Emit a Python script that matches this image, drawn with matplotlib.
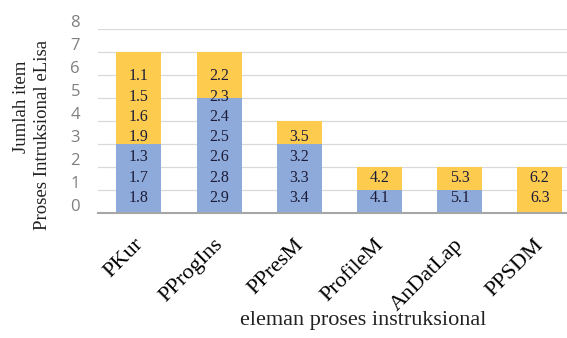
import matplotlib
matplotlib.use("Agg")
import matplotlib.pyplot as plt
import matplotlib.transforms as mtransforms
import numpy as np

categories = ["PKur", "PProgIns", "PPresM", "ProfileM", "AnDatLap", "PPSDM"]
# item labels, listed from bottom to top within each segment
blue_items = [["1.8", "1.7", "1.3"],
              ["2.9", "2.8", "2.6", "2.5", "2.4"],
              ["3.4", "3.3", "3.2"],
              ["4.1"],
              ["5.1"],
              []]
yellow_items = [["1.9", "1.6", "1.5", "1.1"],
                ["2.3", "2.2"],
                ["3.5"],
                ["4.2"],
                ["5.3"],
                ["6.3", "6.2"]]
blue_counts = [len(b) for b in blue_items]
yellow_counts = [len(y) for y in yellow_items]
yticks = list(range(0, 9))

BLUE = "#8eaadb"
YELLOW = "#fdcb4e"
TXT = "#1c1c38"
serif = ["Liberation Serif", "DejaVu Serif"]

fig = plt.figure(figsize=(5.67, 3.38), dpi=100)
ax = fig.add_axes([98/567, 125/338, 1 - 98/567, 184/338])
x = np.arange(len(categories))
w = 0.56
ax.bar(x, blue_counts, width=w, color=BLUE, zorder=2)
ax.bar(x, yellow_counts, width=w, bottom=blue_counts, color=YELLOW, zorder=2)

for i in range(len(categories)):
    items = blue_items[i] + yellow_items[i]
    for k, lab in enumerate(items):
        ax.text(x[i], 0.66 + 0.88 * k, lab, ha="center", va="center",
                fontsize=11.5, color=TXT, family=serif, zorder=3)

ax.set_xlim(-0.51, 5.34)
ax.set_ylim(0, 8)
ax.set_yticks(yticks)
ax.yaxis.grid(True, color="#d9d9d9", linewidth=0.9, zorder=0)
ax.set_axisbelow(True)
for s in ["top", "right", "left"]:
    ax.spines[s].set_visible(False)
ax.spines["bottom"].set_color("#a6a6a6")
ax.spines["bottom"].set_linewidth(1.5)
ax.tick_params(axis="y", length=0, pad=13, labelsize=12, labelcolor="#7f7f7f")
for lab in ax.get_yticklabels():
    lab.set_family(["Open Sans", "DejaVu Sans"])
    lab.set_transform(lab.get_transform() + mtransforms.ScaledTranslation(0, 6/72, fig.dpi_scale_trans))

ax.set_xticks(x)
ax.set_xticklabels(categories, rotation=45, ha="right", va="top",
                   rotation_mode="anchor", fontsize=16, family=serif, color="black")
ax.tick_params(axis="x", length=0, pad=16)
for lab in ax.get_xticklabels():
    lab.set_transform(lab.get_transform() + mtransforms.ScaledTranslation(-4/72, 0, fig.dpi_scale_trans))

fig.text(22/567, 1 - 107/338, "Jumlah item", rotation=90, ha="center", va="center",
         fontsize=13.5, family=serif, color="#222222")
fig.text(43/567, 1 - 135/338, "Proses Intruksional eLisa", rotation=90, ha="center", va="center",
         fontsize=13.5, family=serif, color="#222222")
fig.text(363/567, 1 - 320/338, "eleman proses instruksional", ha="center", va="center",
         fontsize=16, family=serif, color="#222222")

fig.savefig("out.png", dpi=100)
